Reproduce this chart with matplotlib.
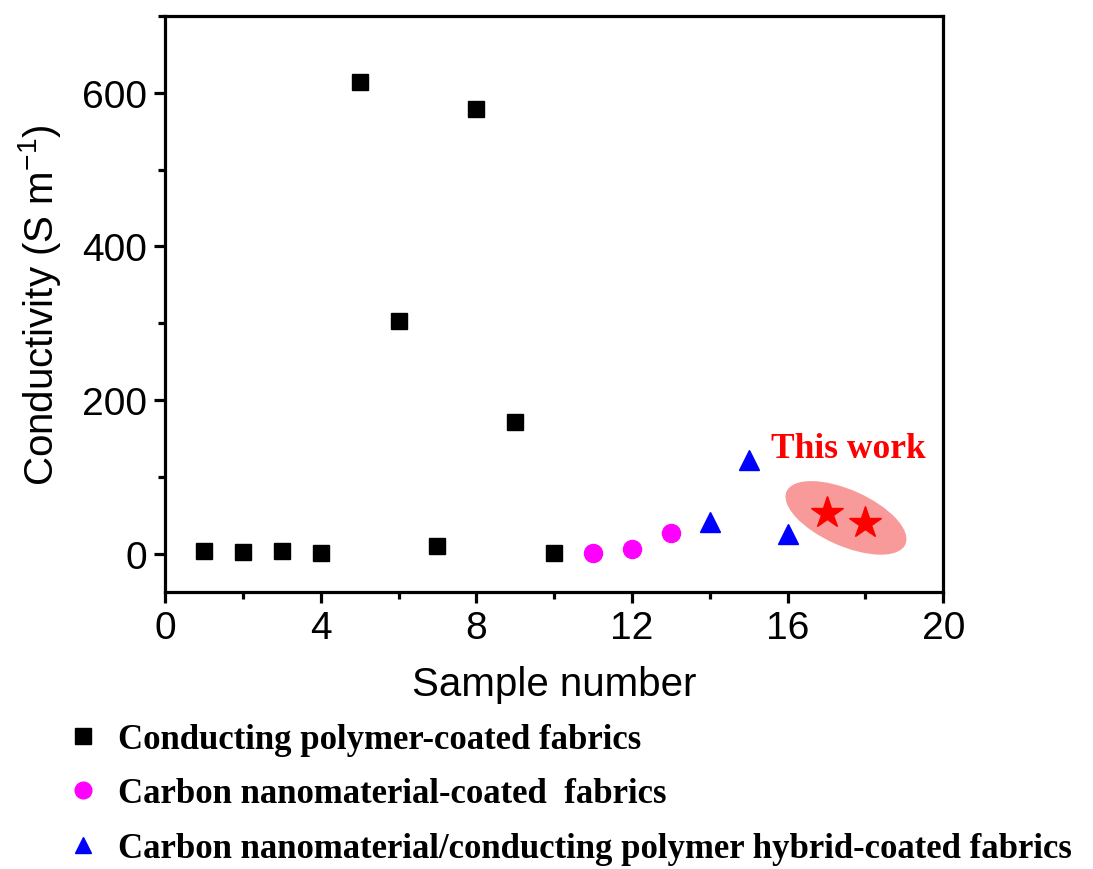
import matplotlib
matplotlib.use("Agg")
import matplotlib.pyplot as plt
from matplotlib.patches import Ellipse
from matplotlib.transforms import ScaledTranslation
from matplotlib.ticker import MultipleLocator
import numpy as np

# Data
poly_x = [1, 2, 3, 4, 5, 6, 7, 8, 9, 10]
poly_y = [3, 2, 3, 1, 614, 303, 10, 579, 171, 1]
carbon_x = [11, 12, 13]
carbon_y = [0.5, 6, 27]
hybrid_x = [14, 15, 16]
hybrid_y = [41, 122, 25]
work_x = [17, 18]
work_y = [53, 40]

labels = ["Conducting polymer-coated fabrics",
          "Carbon nanomaterial-coated  fabrics",
          "Carbon nanomaterial/conducting polymer hybrid-coated fabrics"]

sans = ["Liberation Sans", "DejaVu Sans"]
serif = ["Liberation Serif", "DejaVu Serif"]

fig = plt.figure(figsize=(10.93, 8.70), dpi=100)
ax = fig.add_axes([0.151, 0.3184, 0.712, 0.662])

ax.set_xlim(0, 20)
ax.set_ylim(-50, 700)

h1, = ax.plot(poly_x, poly_y, ls="none", marker="s", ms=11.5, color="black")
h2, = ax.plot(carbon_x, carbon_y, ls="none", marker="o", ms=13, color="#FF00FF")
h3, = ax.plot(hybrid_x, hybrid_y, ls="none", marker="^", ms=15, color="#0000FF")

# highlight ellipse around "This work" stars (size in inches, centred on data mean)
xc, yc = np.mean(work_x), np.mean(work_y)
ell = Ellipse((0, 0), 1.30, 0.56, angle=-24,
              transform=fig.dpi_scale_trans + ScaledTranslation(xc, yc, ax.transData),
              facecolor="#F89A9A", edgecolor="none", zorder=1.5)
ax.add_patch(ell)
ax.plot(work_x, work_y, ls="none", marker="*", ms=24, color="#FF0000", zorder=3)

ax.text(17.56, 137, "This work", color="#FF0000", fontsize=25.5, fontweight="bold",
        family=serif, ha="center", va="center")

ax.xaxis.set_major_locator(MultipleLocator(4))
ax.xaxis.set_minor_locator(MultipleLocator(2))
ax.yaxis.set_major_locator(MultipleLocator(200))
ax.yaxis.set_minor_locator(MultipleLocator(100))

for sp in ax.spines.values():
    sp.set_linewidth(2.3)
ax.tick_params(which="major", direction="out", length=8, width=2.3, labelsize=28, pad=5)
ax.tick_params(which="minor", direction="out", length=5, width=2.3)
ax.tick_params(top=False, right=False, which="both")
for lab in ax.get_xticklabels() + ax.get_yticklabels():
    lab.set_family(sans)

ax.set_xlabel("Sample number", fontsize=29, family=sans, labelpad=14)
ax.set_ylabel(r"Conductivity (S m$^{\mathregular{-1}}$)", fontsize=29, family=sans, labelpad=14)

leg = fig.legend([h1, h2, h3], labels, loc="upper left", bbox_to_anchor=(0.0663, 0.168),
                 frameon=False, handlelength=0.6, handletextpad=0.7, labelspacing=0.62,
                 prop={"family": serif, "weight": "bold", "size": 25}, borderaxespad=0,
                 borderpad=0)
for hnd in leg.legend_handles:
    hnd.set_markersize(12)

fig.savefig("out.png", dpi=100)
